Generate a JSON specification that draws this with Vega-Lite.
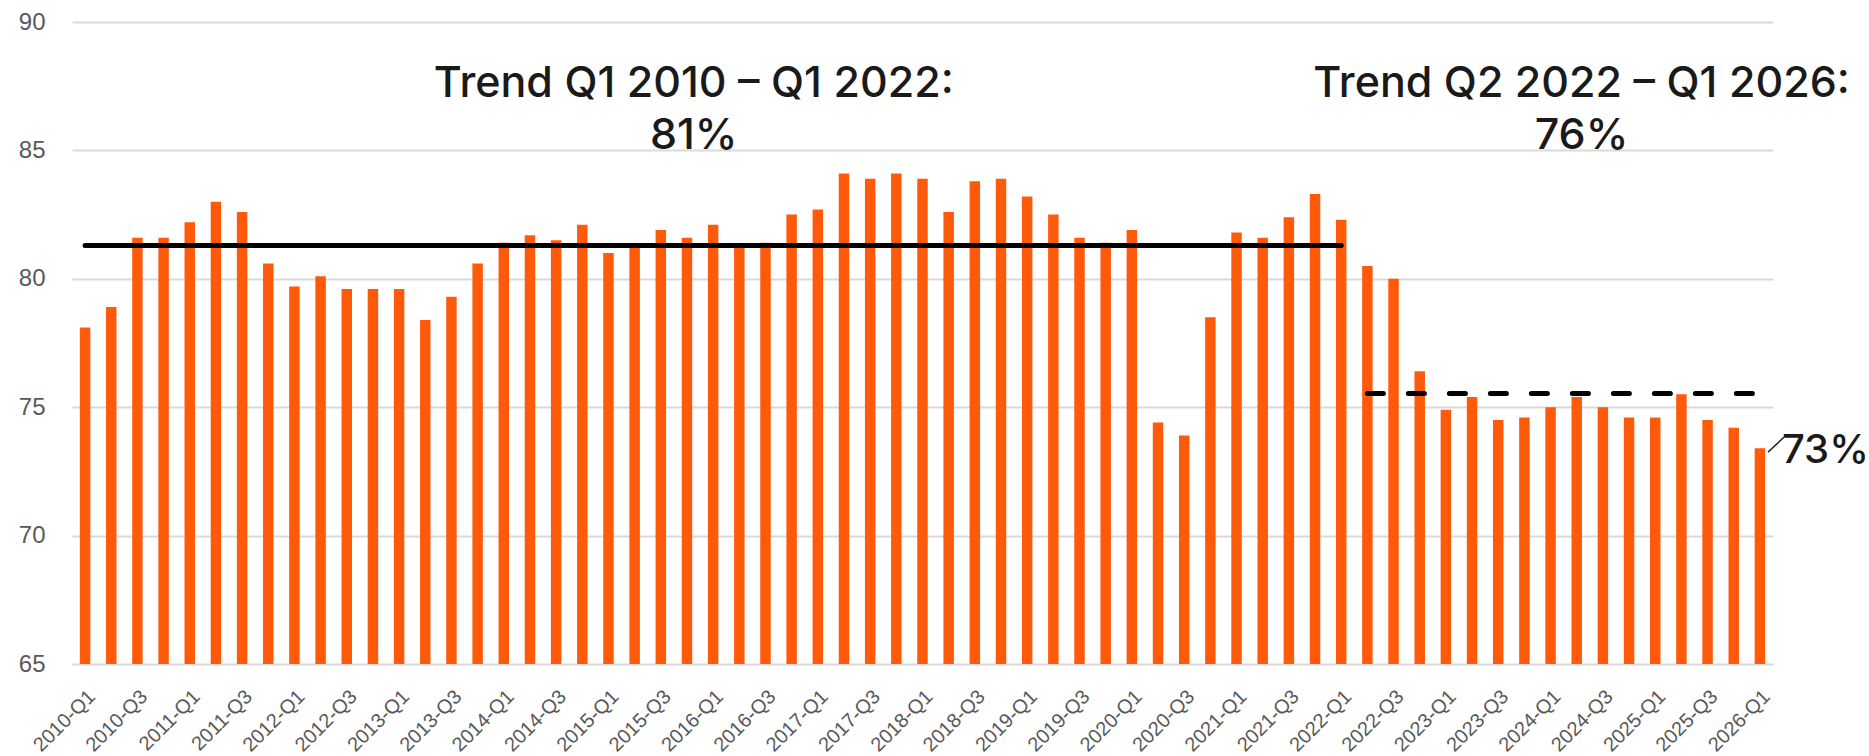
{
  "$schema": "https://vega.github.io/schema/vega-lite/v6.json",
  "autosize": "none",
  "width": 1701,
  "height": 642,
  "padding": {"left": 72, "top": 22, "right": 96, "bottom": 92},
  "background": "#ffffff",
  "config": {
    "view": {"stroke": null},
    "font": "Liberation Sans"
  },
  "datasets": {
    "bars": [
      {"q": "2010-Q1", "v": 78.1}, {"q": "2010-Q2", "v": 78.9}, {"q": "2010-Q3", "v": 81.6}, {"q": "2010-Q4", "v": 81.6},
      {"q": "2011-Q1", "v": 82.2}, {"q": "2011-Q2", "v": 83.0}, {"q": "2011-Q3", "v": 82.6}, {"q": "2011-Q4", "v": 80.6},
      {"q": "2012-Q1", "v": 79.7}, {"q": "2012-Q2", "v": 80.1}, {"q": "2012-Q3", "v": 79.6}, {"q": "2012-Q4", "v": 79.6},
      {"q": "2013-Q1", "v": 79.6}, {"q": "2013-Q2", "v": 78.4}, {"q": "2013-Q3", "v": 79.3}, {"q": "2013-Q4", "v": 80.6},
      {"q": "2014-Q1", "v": 81.4}, {"q": "2014-Q2", "v": 81.7}, {"q": "2014-Q3", "v": 81.5}, {"q": "2014-Q4", "v": 82.1},
      {"q": "2015-Q1", "v": 81.0}, {"q": "2015-Q2", "v": 81.25}, {"q": "2015-Q3", "v": 81.9}, {"q": "2015-Q4", "v": 81.6},
      {"q": "2016-Q1", "v": 82.1}, {"q": "2016-Q2", "v": 81.25}, {"q": "2016-Q3", "v": 81.4}, {"q": "2016-Q4", "v": 82.5},
      {"q": "2017-Q1", "v": 82.7}, {"q": "2017-Q2", "v": 84.1}, {"q": "2017-Q3", "v": 83.9}, {"q": "2017-Q4", "v": 84.1},
      {"q": "2018-Q1", "v": 83.9}, {"q": "2018-Q2", "v": 82.6}, {"q": "2018-Q3", "v": 83.8}, {"q": "2018-Q4", "v": 83.9},
      {"q": "2019-Q1", "v": 83.2}, {"q": "2019-Q2", "v": 82.5}, {"q": "2019-Q3", "v": 81.6}, {"q": "2019-Q4", "v": 81.4},
      {"q": "2020-Q1", "v": 81.9}, {"q": "2020-Q2", "v": 74.4}, {"q": "2020-Q3", "v": 73.9}, {"q": "2020-Q4", "v": 78.5},
      {"q": "2021-Q1", "v": 81.8}, {"q": "2021-Q2", "v": 81.6}, {"q": "2021-Q3", "v": 82.4}, {"q": "2021-Q4", "v": 83.3},
      {"q": "2022-Q1", "v": 82.3}, {"q": "2022-Q2", "v": 80.5}, {"q": "2022-Q3", "v": 80.0}, {"q": "2022-Q4", "v": 76.4},
      {"q": "2023-Q1", "v": 74.9}, {"q": "2023-Q2", "v": 75.4}, {"q": "2023-Q3", "v": 74.5}, {"q": "2023-Q4", "v": 74.6},
      {"q": "2024-Q1", "v": 75.0}, {"q": "2024-Q2", "v": 75.4}, {"q": "2024-Q3", "v": 75.0}, {"q": "2024-Q4", "v": 74.6},
      {"q": "2025-Q1", "v": 74.6}, {"q": "2025-Q2", "v": 75.5}, {"q": "2025-Q3", "v": 74.5}, {"q": "2025-Q4", "v": 74.2},
      {"q": "2026-Q1", "v": 73.4}
    ],
    "trend1": [{"q": "2010-Q1", "q2": "2022-Q1", "v": 81.3}],
    "trend2": [{"q": "2022-Q2", "q2": "2026-Q1", "v": 75.53}],
    "notes": [
      {"q": "2015-Q4", "v": 87.07, "label": "Trend Q1 2010 – Q1 2022:\n81%", "offset": 12},
      {"q": "2024-Q2", "v": 87.07, "label": "Trend Q2 2022 – Q1 2026:\n76%", "offset": 10}
    ],
    "last": [{"q": "2026-Q1", "v": 73.4, "label": "73%"}]
  },
  "encoding": {
    "x": {
      "field": "q",
      "type": "ordinal",
      "sort": "ascending",
      "title": null,
      "scale": {"paddingInner": 0.6, "paddingOuter": 0.3},
      "axis": {
        "values": ["2010-Q1","2010-Q3","2011-Q1","2011-Q3","2012-Q1","2012-Q3","2013-Q1","2013-Q3","2014-Q1","2014-Q3","2015-Q1","2015-Q3","2016-Q1","2016-Q3","2017-Q1","2017-Q3","2018-Q1","2018-Q3","2019-Q1","2019-Q3","2020-Q1","2020-Q3","2021-Q1","2021-Q3","2022-Q1","2022-Q3","2023-Q1","2023-Q3","2024-Q1","2024-Q3","2025-Q1","2025-Q3","2026-Q1"],
        "labelAngle": -45,
        "labelFontSize": 20,
        "labelFont": "Liberation Sans",
        "labelColor": "#595959",
        "labelPadding": 22,
        "labelOverlap": false,
        "labelLimit": 300,
        "domain": false,
        "ticks": false,
        "grid": false,
        "title": null
      }
    },
    "y": {
      "field": "v",
      "type": "quantitative",
      "title": null,
      "scale": {"domain": [65, 90], "zero": false, "nice": false},
      "axis": {"values": [65, 70, 75, 80, 85, 90], "labelFontSize": 24, "labelFont": "Liberation Sans", "labelColor": "#595959", "labelPadding": 27, "domain": false, "ticks": false, "grid": true, "gridColor": "#d9d9d9", "gridWidth": 2}
    }
  },
  "layer": [
    {
      "data": {"name": "bars"},
      "mark": {"type": "bar", "color": "#ff5a0a"},
      "encoding": {"y2": {"datum": 65}}
    },
    {
      "data": {"name": "trend1"},
      "mark": {"type": "rule", "color": "#000000", "strokeWidth": 5, "strokeCap": "round"},
      "encoding": {"x2": {"field": "q2"}}
    },
    {
      "data": {"name": "trend2"},
      "mark": {"type": "rule", "color": "#000000", "strokeWidth": 5, "strokeCap": "round", "strokeDash": [16, 25]},
      "encoding": {"x2": {"field": "q2"}}
    },
    {
      "data": {"name": "notes"},
      "mark": {"type": "text", "font": "Inter", "fontWeight": 500, "fontSize": 43, "color": "#1a1a1a", "align": "center", "baseline": "alphabetic", "lineBreak": "\n", "lineHeight": 52},
      "encoding": {
        "xOffset": {"field": "offset", "type": "quantitative", "scale": null},
        "text": {"field": "label"}
      }
    },
    {
      "data": {"name": "last"},
      "mark": {"type": "text", "font": "Inter", "fontWeight": 500, "fontSize": 40, "color": "#1a1a1a", "align": "left", "baseline": "alphabetic", "dx": 22, "dy": 15},
      "encoding": {"text": {"field": "label"}}
    },
    {
      "data": {"name": "last"},
      "mark": {"type": "rule", "color": "#1a1a1a", "strokeWidth": 1.5, "xOffset": 8, "x2Offset": 24, "yOffset": 4, "y2Offset": -11},
      "encoding": {
        "x2": {"field": "q"},
        "y2": {"field": "v"}
      }
    }
  ]
}
